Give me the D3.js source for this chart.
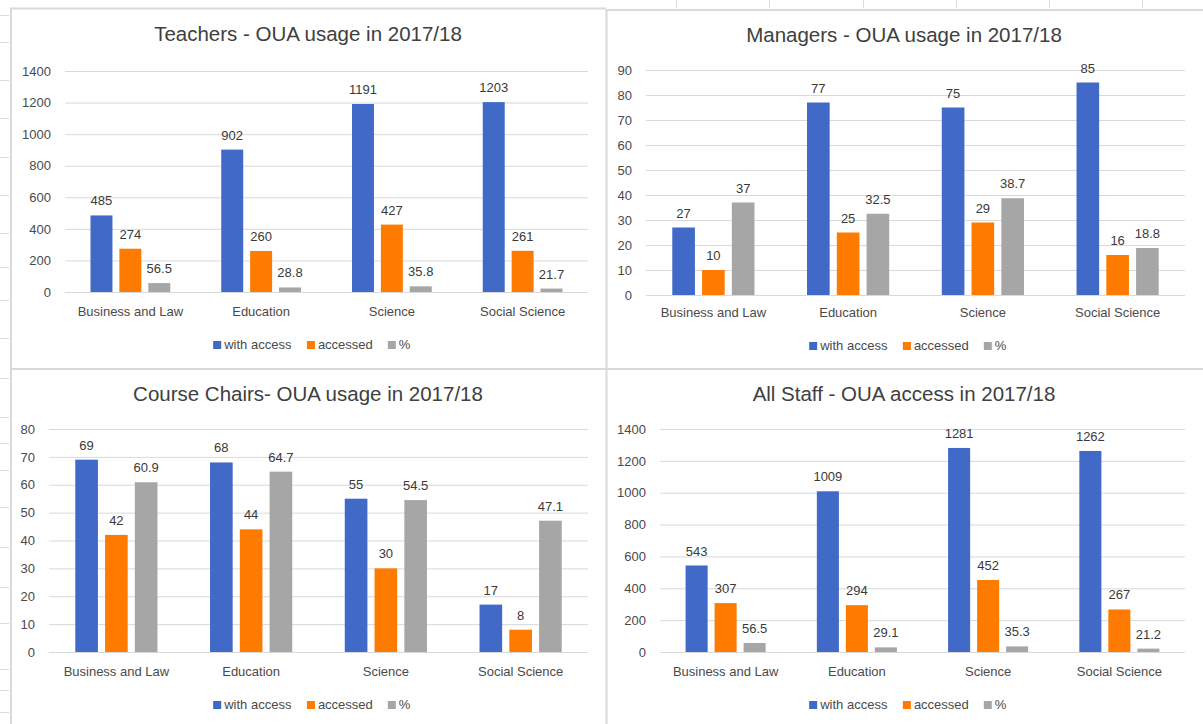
<!DOCTYPE html>
<html>
<head>
<meta charset="utf-8">
<script src="https://cdn.jsdelivr.net/npm/d3@7"></script>
<style>
  body { margin: 0; background: #fff; }
  svg { display: block; font-family: "Liberation Sans", Arial, sans-serif; }
</style>
</head>
<body>
<svg id="chart"></svg>
<script>
// categories and series shared by all four charts
let categories = ["Business and Law", "Education", "Science", "Social Science"];
let seriesNames = ["with access", "accessed", "%"];

let teachersWithAccess = [485, 902, 1191, 1203];
let teachersAccessed = [274, 260, 427, 261];
let teachersPct = [56.5, 28.8, 35.8, 21.7];

let managersWithAccess = [27, 77, 75, 85];
let managersAccessed = [10, 25, 29, 16];
let managersPct = [37, 32.5, 38.7, 18.8];

let chairsWithAccess = [69, 68, 55, 17];
let chairsAccessed = [42, 44, 30, 8];
let chairsPct = [60.9, 64.7, 54.5, 47.1];

let allWithAccess = [543, 1009, 1281, 1262];
let allAccessed = [307, 294, 452, 267];
let allPct = [56.5, 29.1, 35.3, 21.2];

let titles = [
    "Teachers - OUA usage in 2017/18",
    "Managers - OUA usage in 2017/18",
    "Course Chairs- OUA usage in 2017/18",
    "All Staff - OUA access in 2017/18"
];
let yMaxes = [1400, 90, 80, 1400];
let yTickSteps = [200, 10, 10, 200];

let colors = ["#4169c8", "#fe7b00", "#a6a6a6"];

let W = 1203, H = 724;

let svg = d3.select("#chart").attr("width", W).attr("height", H);
svg.append("rect").attr("width", W).attr("height", H).attr("fill", "#fff");

// spreadsheet grid peeking out around the charts
let sheet = svg.append("g").attr("stroke", "#dcdcdc").attr("stroke-width", 1);
[15, 42, 80, 118, 157, 195, 233, 267, 300, 338, 378, 417, 443, 470, 507, 547, 587, 623, 669, 690, 712]
    .forEach(function (y) {
        sheet.append("line").attr("x1", 0).attr("x2", 9).attr("y1", y + 0.5).attr("y2", y + 0.5);
    });
[676, 769, 863, 956, 1049, 1142].forEach(function (x) {
    sheet.append("line").attr("x1", x + 0.5).attr("x2", x + 0.5).attr("y1", 0).attr("y2", 8);
});

// chart frames
let frames = svg.append("g").attr("stroke", "#d9d9d9").attr("stroke-width", 2).attr("fill", "none");
frames.append("path").attr("d", "M11,724 V8.5 H606");
frames.append("path").attr("d", "M606.5,724 V10 H1203");
frames.append("path").attr("d", "M11,369 H1203");

let layouts = [
    {titleX: 308, titleY: 41, x0: 65, x1: 588, yTop: 71, yBottom: 292, catY: 317, legendX: 312, legendY: 345},
    {titleX: 904, titleY: 42, x0: 646, x1: 1185, yTop: 70, yBottom: 295, catY: 318, legendX: 908, legendY: 346},
    {titleX: 308, titleY: 401, x0: 49, x1: 588, yTop: 429, yBottom: 652, catY: 677, legendX: 312, legendY: 705},
    {titleX: 904, titleY: 401, x0: 660, x1: 1185, yTop: 429, yBottom: 652, catY: 677, legendX: 908, legendY: 705}
];

let panelSeries = [
    [teachersWithAccess, teachersAccessed, teachersPct],
    [managersWithAccess, managersAccessed, managersPct],
    [chairsWithAccess, chairsAccessed, chairsPct],
    [allWithAccess, allAccessed, allPct]
];

let drawPanel = function (i) {
    let L = layouts[i];
    let series = panelSeries[i];
    let g = svg.append("g");

    g.append("text")
        .attr("x", L.titleX)
        .attr("y", L.titleY)
        .attr("text-anchor", "middle")
        .attr("font-size", "20.5px")
        .attr("fill", "#404040")
        .text(titles[i]);

    let x0 = d3.scaleBand()
        .domain(categories)
        .range([L.x0, L.x1])
        .paddingInner(0.39)
        .paddingOuter(0.195);

    let x1 = d3.scaleBand()
        .domain(seriesNames)
        .range([0, x0.bandwidth()])
        .paddingInner(0.24);

    let y = d3.scaleLinear()
        .domain([0, yMaxes[i]])
        .range([L.yBottom, L.yTop]);

    let ticks = d3.range(0, yMaxes[i] + 1, yTickSteps[i]);

    let yAxis = g.append("g")
        .attr("transform", "translate(" + L.x0 + ",0)")
        .call(d3.axisLeft(y).tickValues(ticks).tickSize(-(L.x1 - L.x0)).tickPadding(14).tickFormat(d3.format("d")));
    yAxis.select(".domain").remove();
    yAxis.selectAll(".tick line").attr("stroke", "#d9d9d9").attr("stroke-width", 1);
    yAxis.selectAll(".tick text")
        .attr("font-size", "13px")
        .attr("fill", "#4a4a4a")
        .attr("font-family", "Liberation Sans, Arial, sans-serif");

    let xAxis = g.append("g")
        .attr("transform", "translate(0," + (L.catY - 10) + ")")
        .call(d3.axisBottom(x0).tickSize(0).tickPadding(0));
    xAxis.select(".domain").remove();
    xAxis.selectAll(".tick text")
        .attr("font-size", "13px")
        .attr("fill", "#4a4a4a")
        .attr("font-family", "Liberation Sans, Arial, sans-serif");

    let rows = categories.map(function (c, ci) {
        return {cat: c, values: seriesNames.map(function (s, si) {
            return {name: s, value: series[si][ci], color: colors[si]};
        })};
    });

    let groups = g.selectAll(".grp")
        .data(rows)
        .enter()
        .append("g")
        .attr("transform", function (d) { return "translate(" + x0(d.cat) + ",0)"; });

    groups.selectAll("rect")
        .data(function (d) { return d.values; })
        .enter()
        .append("rect")
        .attr("x", function (d) { return x1(d.name); })
        .attr("width", x1.bandwidth())
        .attr("y", function (d) { return y(d.value); })
        .attr("height", function (d) { return y(0) - y(d.value); })
        .attr("fill", function (d) { return d.color; });

    groups.selectAll("text")
        .data(function (d) { return d.values; })
        .enter()
        .append("text")
        .attr("x", function (d) { return x1(d.name) + x1.bandwidth() / 2; })
        .attr("y", function (d) { return y(d.value) - 10; })
        .attr("text-anchor", "middle")
        .attr("font-size", "13px")
        .attr("fill", "#3a3a3a")
        .text(function (d) { return d.value; });

    // legend, centred under the plot
    let legend = g.append("g");
    let items = legend.selectAll("g")
        .data(seriesNames)
        .enter()
        .append("g");
    items.append("rect")
        .attr("width", 8)
        .attr("height", 8)
        .attr("y", -8)
        .attr("fill", function (d, k) { return colors[k]; });
    items.append("text")
        .attr("x", 11)
        .attr("font-size", "13px")
        .attr("fill", "#4a4a4a")
        .text(function (d) { return d; });

    let offset = 0;
    items.each(function () {
        let node = d3.select(this);
        node.attr("transform", "translate(" + offset + ",0)");
        offset += this.getBBox().width + 15;
    });
    let total = offset - 15;
    legend.attr("transform", "translate(" + (L.legendX - total / 2) + "," + (L.legendY + 4) + ")");
};

for (let i = 0; i < 4; i++) {
    drawPanel(i);
}
</script>
</body>
</html>
